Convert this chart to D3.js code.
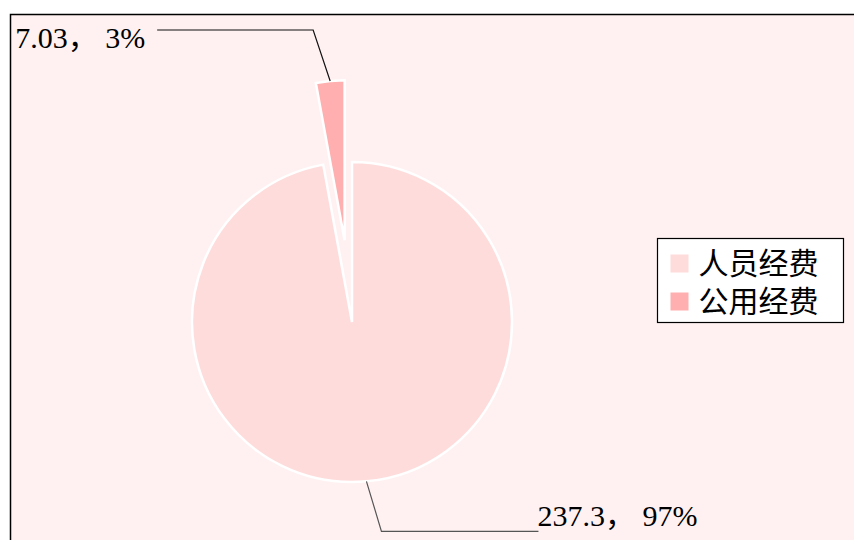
<!DOCTYPE html>
<meta charset="utf-8">
<title>经费构成</title>
<style>
    body { margin: 0; background: #fff; }
    text { font-family: "Liberation Serif", "Noto Sans CJK SC", serif; fill: #000; }
</style>
<svg width="854" height="540"></svg>
<script src="https://cdn.jsdelivr.net/npm/d3@7/dist/d3.min.js"></script>
<script>

    var categories = ["人员经费", "公用经费"];
    var values = [237.3, 7.03];
    var colors = ["#FFDCDC", "#FFAFAF"];

    var svg = d3.select("svg"),
        width = +svg.attr("width"),
        height = +svg.attr("height");

    // chart area frame (runs off the right and bottom edges)
    svg.append("rect")
        .attr("x", 10.5).attr("y", 14.5)
        .attr("width", 860).attr("height", 540)
        .attr("fill", "#FFF1F1")
        .attr("stroke", "#000")
        .attr("stroke-width", 1.5);

    var cx = 352, cy = 322, radius = 160, explode = 82;

    var pie = d3.pie().sort(null).value(function (d) { return d; });
    var arcs = pie(values);
    var total = d3.sum(values);
    var arc = d3.arc().innerRadius(0).outerRadius(radius);

    var g = svg.append("g").attr("transform", "translate(" + cx + "," + cy + ")");

    function offset(d) {
        // only the small slice is pulled out
        if (d.index !== 1) return [0, 0];
        var a = (d.startAngle + d.endAngle) / 2;
        return [Math.sin(a) * explode, -Math.cos(a) * explode];
    }

    g.selectAll("path")
        .data(arcs)
        .enter().append("path")
        .attr("d", arc)
        .attr("transform", function (d) { var o = offset(d); return "translate(" + o[0] + "," + o[1] + ")"; })
        .attr("fill", function (d, i) { return colors[i]; })
        .attr("stroke", "#fff")
        .attr("stroke-width", 2.5)
        .attr("stroke-linejoin", "miter");

    // leader lines + labels
    var fmt = d3.format(".0%");
    arcs.forEach(function (d) {
        var a = (d.startAngle + d.endAngle) / 2;
        var o = offset(d);
        var sx = o[0] + Math.sin(a) * radius,
            sy = o[1] - Math.cos(a) * radius;
        var up = sy < 0;
        var ex = sx + (Math.sin(a) < 0 ? -17 : 15),
            ey = sy + (up ? -51 : 50);
        var hx = ex + (Math.sin(a) < 0 ? -156 : 157);
        g.append("polyline")
            .attr("points", [[sx, sy], [ex, ey], [hx, ey]].map(function (p) { return p.join(","); }).join(" "))
            .attr("fill", "none")
            .attr("stroke", up ? "#111" : "#555")
            .attr("stroke-width", 1.2);
        var label = d.data + "， " + fmt(d.data / total);
        g.append("text")
            .attr("x", Math.sin(a) < 0 ? hx - 12 : hx - 1)
            .attr("y", ey + (up ? 18 : -5))
            .attr("text-anchor", Math.sin(a) < 0 ? "end" : "start")
            .style("font-size", "30px")
            .text(label);
    });

    // legend
    var legend = svg.append("g").attr("transform", "translate(657.5,238.5)");
    legend.append("rect")
        .attr("width", 186).attr("height", 84)
        .attr("fill", "#fff")
        .attr("stroke", "#000")
        .attr("stroke-width", 1.2);
    var item = legend.selectAll("g.item")
        .data(categories)
        .enter().append("g")
        .attr("class", "item")
        .attr("transform", function (d, i) { return "translate(13," + (16 + i * 38) + ")"; });
    item.append("rect")
        .attr("width", 18).attr("height", 18)
        .attr("fill", function (d, i) { return colors[i]; });
    item.append("text")
        .attr("x", 28).attr("y", 19)
        .style("font-size", "30px")
        .text(function (d) { return d; });

</script>
